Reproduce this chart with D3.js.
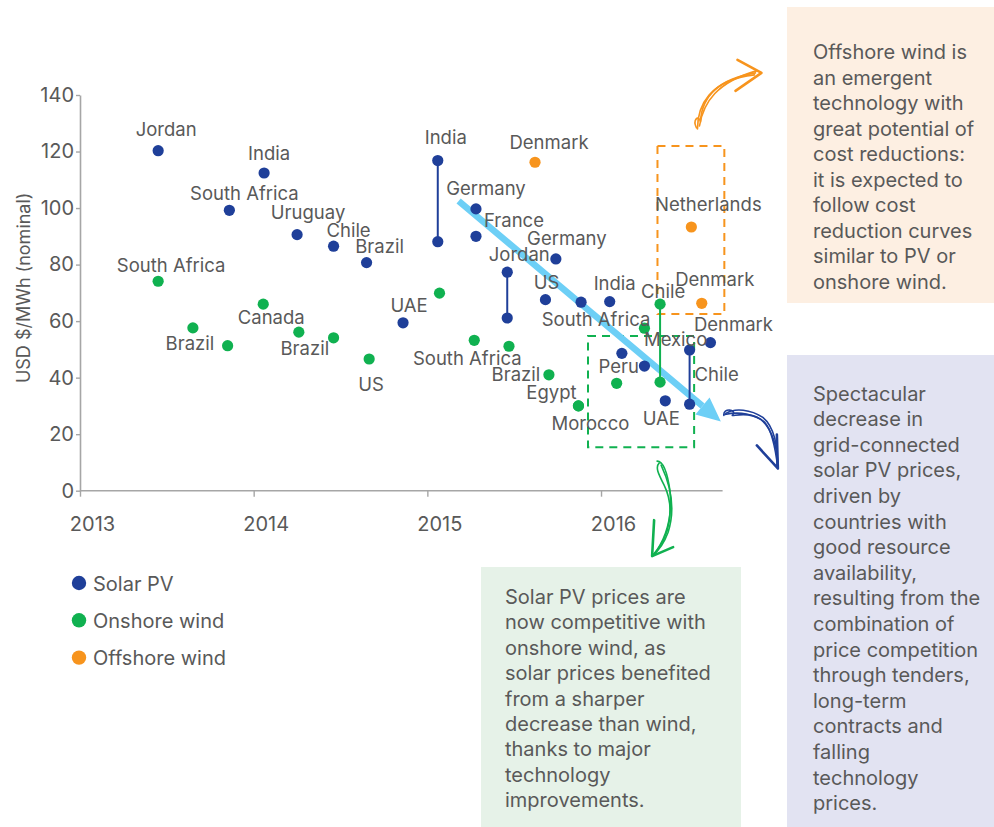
<!DOCTYPE html>
<html><head><meta charset="utf-8">
<script src="https://cdn.jsdelivr.net/npm/d3@7"></script>
<style>html,body{margin:0;padding:0;background:#fff;} svg{display:block;font-family:Inter,"Noto Sans",sans-serif;}</style>
</head><body>
<svg id="chart" width="994" height="827"></svg>
<script>
// ---------------- DATA ----------------
const seriesNames = ["Solar PV", "Onshore wind", "Offshore wind"];
const seriesColors = ["#1f3f99", "#10b150", "#f7941d"];

const solarDates  = [2013.45, 2013.86, 2014.06, 2014.25, 2014.46, 2014.65, 2014.86, 2015.06, 2015.06, 2015.28, 2015.28, 2015.46, 2015.46, 2015.68, 2015.74, 2015.885, 2016.05, 2016.12, 2016.25, 2016.37, 2016.51, 2016.51, 2016.63];
const solarPrices = [120.3, 99.2, 112.4, 90.6, 86.5, 80.7, 59.4, 116.8, 88.1, 99.7, 90.0, 77.3, 61.1, 67.6, 82.0, 66.7, 66.9, 48.6, 44.1, 31.8, 49.8, 30.6, 52.4];
const solarCountries = ["Jordan", "South Africa", "India", "Uruguay", "Chile", "Brazil", "UAE", "India", "", "Germany", "France", "Jordan", "", "US", "Germany", "South Africa", "India", "", "", "UAE", "Mexico", "Chile", "Denmark"];

const onshoreDates  = [2013.45, 2013.65, 2013.85, 2014.055, 2014.26, 2014.46, 2014.665, 2015.07, 2015.27, 2015.47, 2015.70, 2015.87, 2015.87, 2016.09, 2016.25, 2016.34, 2016.34];
const onshorePrices = [74.1, 57.6, 51.3, 66.0, 56.1, 54.1, 46.6, 69.9, 53.2, 51.1, 41.0, 30.0, 30.0, 38.0, 57.5, 66.0, 38.4];
const onshoreCountries = ["South Africa", "Brazil", "", "Canada", "Brazil", "", "US", "", "South Africa", "", "Brazil", "Egypt", "Morocco", "Peru", "", "Chile", ""];

const offshoreDates  = [2015.62, 2016.52, 2016.58];
const offshorePrices = [116.2, 93.3, 66.3];
const offshoreCountries = ["Denmark", "Netherlands", "Denmark"];

// price ranges for the same tender (series index, point a, point b)
const rangeLinks = [[0, 7, 8], [0, 11, 12], [0, 20, 21], [1, 15, 16]];

const yTicks = [0, 20, 40, 60, 80, 100, 120, 140];
const xTicks = [2013, 2014, 2015, 2016];
const yTitle = "USD $/MWh (nominal)";

const offshoreNote = ["Offshore wind is","an emergent","technology with","great potential of","cost reductions:","it is expected to","follow cost","reduction curves","similar to PV or","onshore wind."];
const solarNote = ["Spectacular","decrease in","grid-connected","solar PV prices,","driven by","countries with","good resource","availability,","resulting from the","combination of","price competition","through tenders,","long-term","contracts and","falling","technology","prices."];
const windNote = ["Solar PV prices are","now competitive with","onshore wind, as","solar prices benefited","from a sharper","decrease than wind,","thanks to major","technology","improvements."];

// ---------------- LAYOUT (label offsets in px) ----------------
const solarLabelOff = [[8,-21],[15,-17],[5,-20],[11,-22],[15,-16],[13,-16],[6,-17],[8,-23],[0,0],[10,-20],[38,-16],[12,-18],[0,0],[1,-17],[11,-20],[15,17],[5,-18],[0,0],[0,0],[-4,18],[-14,-10],[27,-30],[23,-18]];
const onshoreLabelOff = [[13,-16],[-3,16],[0,0],[8,13],[6,16],[0,0],[2,26],[0,0],[-7,18],[0,0],[-33,0],[-27,-13],[12,18],[2,-17],[0,0],[3,-13],[0,0]];
const offshoreLabelOff = [[14,-20],[17,-22],[13,-24]];

const textColor = "#595959";
const axisColor = "#a6a6a6";

const svg = d3.select("#chart");
const x = d3.scaleLinear().domain([2013, 2016.7]).range([80, 722.6]);
const y = d3.scaleLinear().domain([0, 140]).range([490.7, 95]);

// Callout backgrounds
function callout(x0, y0, w, h, fill, lines, tx, ty, lh) {
  svg.append("rect").attr("x", x0).attr("y", y0).attr("width", w).attr("height", h).attr("fill", fill);
  const t = svg.append("text").attr("fill", textColor).attr("font-size", 20);
  lines.forEach((l, i) => t.append("tspan").attr("x", tx).attr("y", ty + i * lh).text(l));
}
callout(787, 7, 220, 296, "#fdefe2", offshoreNote, 813, 59, 25.5);
callout(787, 355, 220, 480, "#e2e3f2", solarNote, 813, 400.5, 25.6);
callout(481, 567, 260, 270, "#e6f2e8", windNote, 505, 604, 25.4);

// Axes
const gy = svg.append("g").attr("transform", `translate(${x(2013)},0)`)
  .call(d3.axisLeft(y).tickValues(yTicks).tickSize(4).tickSizeOuter(0).tickPadding(2));
const gx = svg.append("g").attr("transform", `translate(0,${y(0)})`)
  .call(d3.axisBottom(x).tickValues(xTicks).tickFormat(d3.format("d")).tickSize(6).tickSizeOuter(0));
[gx, gy].forEach(g => {
  g.select(".domain").attr("stroke", axisColor).attr("stroke-width", 1.6);
  g.selectAll(".tick line").attr("stroke", axisColor).attr("stroke-width", 1.4);
  g.selectAll(".tick text").attr("fill", textColor).attr("font-size", 20).attr("font-family", "Inter");
});
gx.select(".domain").attr("d", `M${x(2013)},0H${x.range()[1]}`);
gx.selectAll(".tick text").attr("dx", 12).attr("y", 40).attr("dy", 0);
svg.append("text").attr("transform", `translate(30,${(y(0)+y(140))/2 - 5}) rotate(-90)`)
  .attr("text-anchor", "middle").attr("fill", textColor).attr("font-size", 18).text(yTitle);

// Dashed boxes (data space)
function dashedBox(x0, x1, v0, v1, color) {
  svg.append("rect").attr("x", x(x0)).attr("y", y(v1)).attr("width", x(x1) - x(x0)).attr("height", y(v0) - y(v1))
    .attr("fill", "none").attr("stroke", color).attr("stroke-width", 2).attr("stroke-dasharray", "8,6");
}
dashedBox(2016.325, 2016.71, 62.5, 122.0, seriesColors[2]);
dashedBox(2015.925, 2016.536, 15.4, 54.7, seriesColors[1]);

// Trend arrow
const a0 = [x(2015.18), y(102.5)], a1 = [x(2016.69), y(24.5)];
const ang = Math.atan2(a1[1] - a0[1], a1[0] - a0[0]);
const hl = 24, hw = 11;
const base = [a1[0] - hl * Math.cos(ang), a1[1] - hl * Math.sin(ang)];
svg.append("line").attr("x1", a0[0]).attr("y1", a0[1]).attr("x2", base[0]).attr("y2", base[1])
  .attr("stroke", "#6dcff6").attr("stroke-width", 6.5);
svg.append("path").attr("fill", "#6dcff6").attr("d",
  `M${a1[0]},${a1[1]}L${base[0] + hw * Math.sin(ang)},${base[1] - hw * Math.cos(ang)}L${base[0] - hw * Math.sin(ang)},${base[1] + hw * Math.cos(ang)}Z`);

// Hand-drawn arrows (anchored on the dashed boxes)
function sketch(color, shafts, barbs) {
  const g = svg.append("g").attr("fill", "none").attr("stroke", color).attr("stroke-linecap", "round").attr("stroke-linejoin", "round");
  shafts.forEach(d => g.append("path").attr("d", d).attr("stroke-width", 1.6));
  g.append("path").attr("d", barbs).attr("stroke-width", 2.6);
}
{
  const ox = x(2016.325), oy = y(122.0);
  const p = (dx, dy) => `${ox + dx},${oy + dy}`;
  sketch(seriesColors[2],
    [`M${p(39,-18)} C${p(35,-26)} ${p(41,-32)} ${p(43,-24)} C${p(44,-45)} ${p(56,-66)} ${p(98,-73)}`,
     `M${p(40,-17)} C${p(40,-40)} ${p(52,-66)} ${p(97,-71)}`,
     `M${p(42,-20)} C${p(46,-44)} ${p(60,-64)} ${p(99,-75)}`],
    `M${p(80,-86)} L${p(104,-73)} L${p(78,-55)}`);
}
{
  const gx0 = x(2016.536), gy0 = y(15.4);
  const p = (dx, dy) => `${gx0 + dx},${gy0 + dy}`;
  sketch(seriesColors[1],
    [`M${p(-35,16)} C${p(-39,20)} ${p(-36,26)} ${p(-30,38)} C${p(-20,58)} ${p(-22,88)} ${p(-42,109)}`,
     `M${p(-37,14)} C${p(-30,14)} ${p(-26,30)} ${p(-24,45)} C${p(-22,70)} ${p(-28,92)} ${p(-41,108)}`,
     `M${p(-33,18)} C${p(-25,35)} ${p(-18,60)} ${p(-26,85)} C${p(-30,96)} ${p(-36,104)} ${p(-42,109)}`],
    `M${p(-40,73)} L${p(-42,109)} L${p(-21,100)}`);
}
{
  const bx = x(2016.69), by = y(24.5);
  const p = (dx, dy) => `${bx + dx},${by + dy}`;
  sketch("#1f3f99",
    [`M${p(3,-6)} C${p(2,-14)} ${p(16,-12)} ${p(12,-7)} C${p(8,-3)} ${p(25,-12)} ${p(40,-2)} C${p(52,8)} ${p(57,28)} ${p(57,47)}`,
     `M${p(5,-8)} C${p(14,-14)} ${p(30,-12)} ${p(42,-4)} C${p(53,5)} ${p(58,26)} ${p(56,46)}`,
     `M${p(4,-7)} C${p(18,-10)} ${p(34,-8)} ${p(44,1)} C${p(52,10)} ${p(55,30)} ${p(57,47)}`],
    `M${p(36,24)} L${p(57,47)} L${p(56,13)}`);
}

// Range links
const allDates = [solarDates, onshoreDates, offshoreDates];
const allPrices = [solarPrices, onshorePrices, offshorePrices];
const allNames = [solarCountries, onshoreCountries, offshoreCountries];
const allOffs = [solarLabelOff, onshoreLabelOff, offshoreLabelOff];
rangeLinks.forEach(([s, a, b]) => {
  svg.append("line").attr("x1", x(allDates[s][a])).attr("y1", y(allPrices[s][a]))
    .attr("x2", x(allDates[s][b])).attr("y2", y(allPrices[s][b]))
    .attr("stroke", seriesColors[s]).attr("stroke-width", 2);
});

// Points
allDates.forEach((dates, s) => {
  svg.append("g").selectAll("circle").data(dates).join("circle")
    .attr("cx", d => x(d)).attr("cy", (d, i) => y(allPrices[s][i])).attr("r", 5.6)
    .attr("fill", seriesColors[s]);
});
// Labels
allDates.forEach((dates, s) => {
  svg.append("g").selectAll("text").data(dates).join("text")
    .attr("x", (d, i) => x(d) + allOffs[s][i][0])
    .attr("y", (d, i) => y(allPrices[s][i]) + allOffs[s][i][1] + 6.5)
    .attr("text-anchor", "middle").attr("fill", textColor).attr("font-size", 18.5)
    .text((d, i) => allNames[s][i]);
});

// Legend
const lg = svg.append("g");
seriesNames.forEach((n, i) => {
  lg.append("circle").attr("cx", 79).attr("cy", 583 + i * 37.3).attr("r", 7.2).attr("fill", seriesColors[i]);
  lg.append("text").attr("x", 93).attr("y", 590.5 + i * 37.3).attr("fill", textColor).attr("font-size", 20).text(n);
});
</script>
</body></html>
